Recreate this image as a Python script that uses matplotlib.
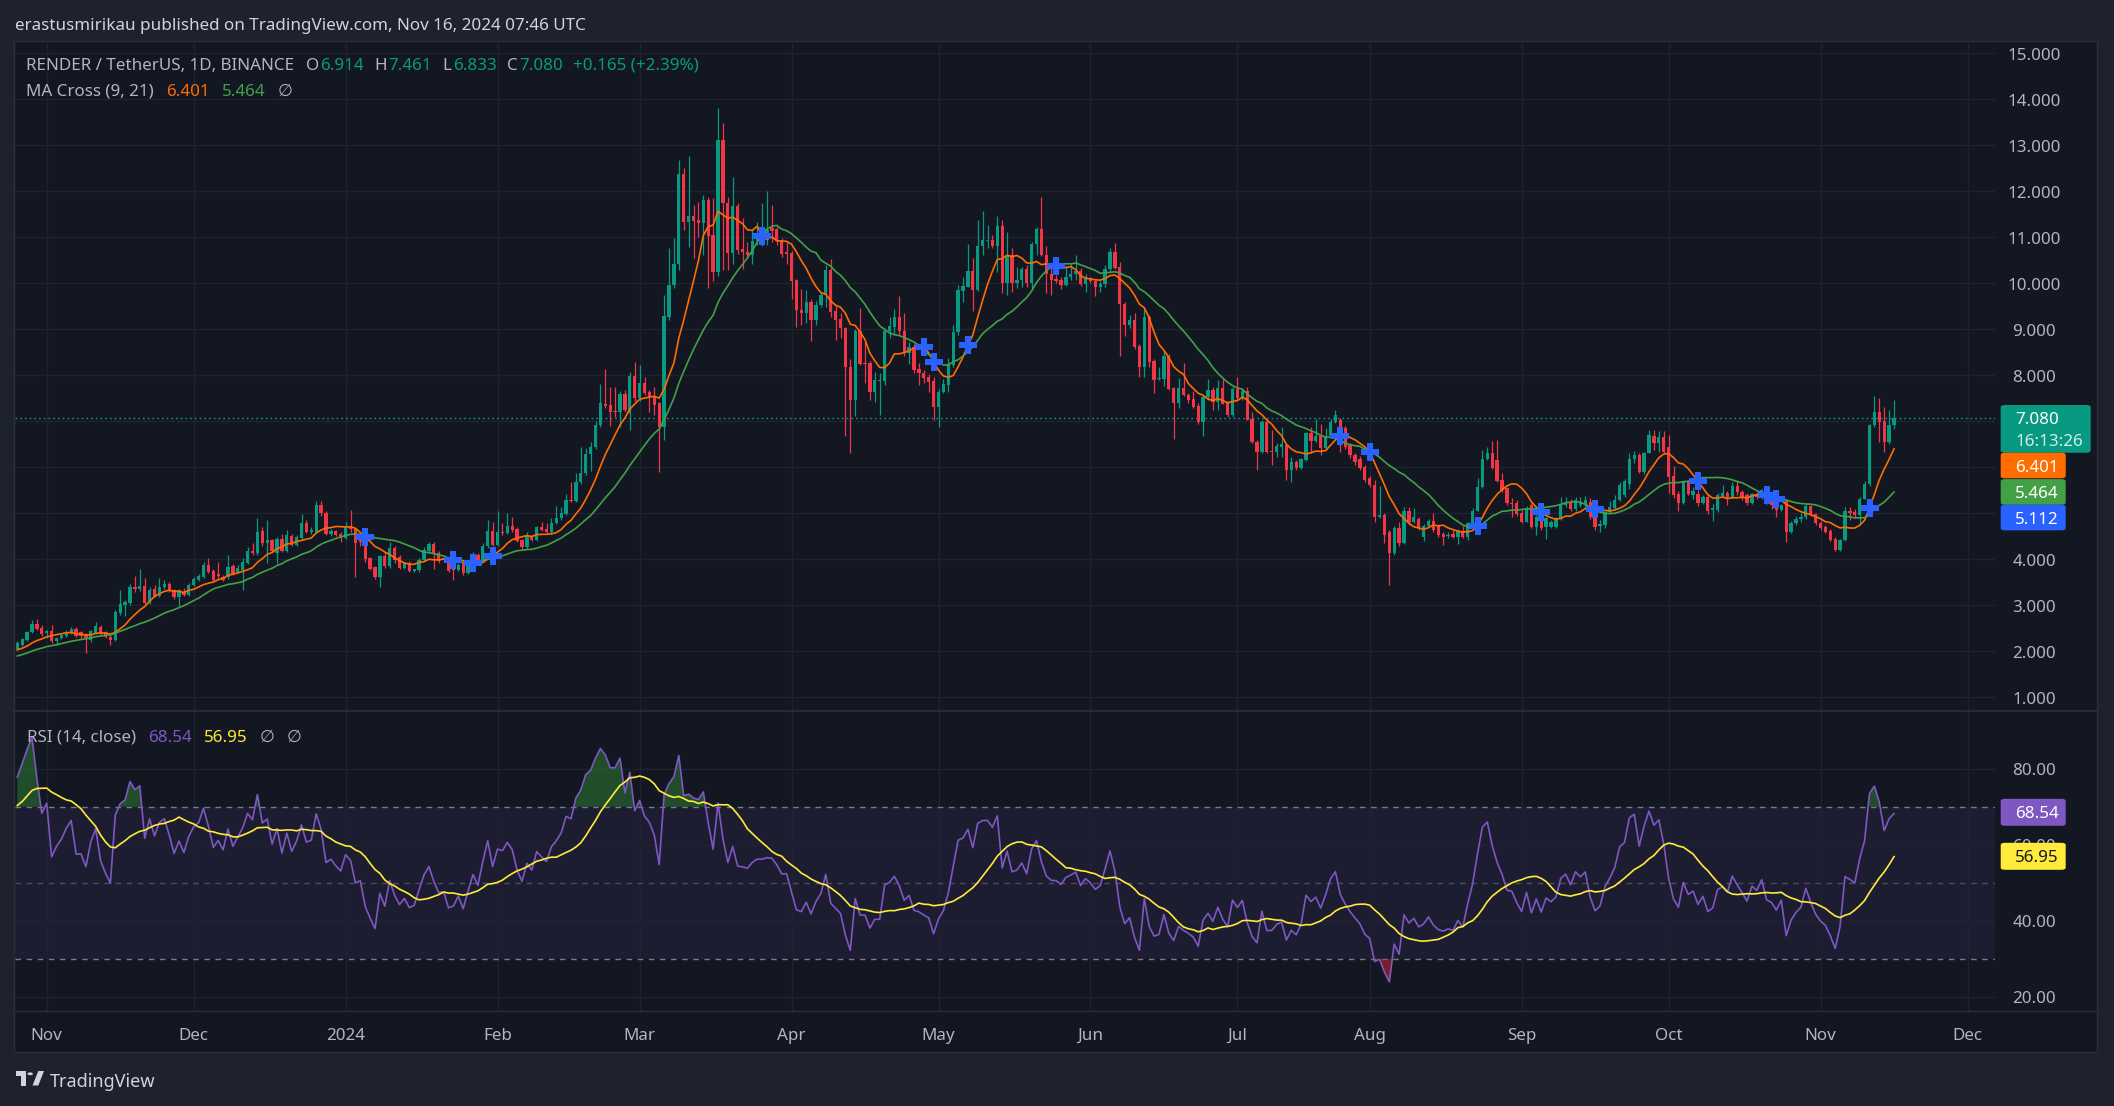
import numpy as np
import matplotlib
matplotlib.use("Agg")
import matplotlib.pyplot as plt
from matplotlib.patches import Rectangle, Polygon, FancyBboxPatch, Circle
import matplotlib.transforms as mtransforms

# ---------------- data (daily candles, RENDER/USDT, Oct 26 2023 -> Nov 16 2024) ----------------
# warm-up closes before the visible window (only used for the indicators)
pre_close = [1.60, 1.56, 1.62, 1.58, 1.54, 1.60, 1.57, 1.52, 1.58, 1.55,
             1.61, 1.57, 1.63, 1.59, 1.56, 1.62, 1.58, 1.64, 1.60, 1.63,
             1.66, 1.70, 1.68, 1.74, 1.78, 1.76, 1.82, 1.86, 1.84, 1.90,
             1.94, 1.92, 1.96, 1.99, 1.97, 2.02, 2.05, 2.03, 2.04, 2.06]

opens = [2.06, 2.14, 2.25, 2.41, 2.59, 2.50, 2.39, 2.44, 2.23, 2.28,
         2.33, 2.39, 2.48, 2.41, 2.35, 2.25, 2.39, 2.52, 2.42, 2.32,
         2.25, 2.84, 3.01, 3.06, 3.40, 3.35, 3.42, 3.06, 3.36, 3.20,
         3.39, 3.46, 3.33, 3.17, 3.30, 3.23, 3.44, 3.55, 3.62, 3.87,
         3.75, 3.69, 3.62, 3.62, 3.85, 3.73, 3.77, 3.93, 4.18, 4.13,
         4.62, 4.36, 4.42, 4.13, 4.44, 4.18, 4.51, 4.31, 4.46, 4.80,
         4.59, 4.60, 5.18, 5.01, 4.55, 4.62, 4.55, 4.47, 4.72, 4.65,
         4.49, 4.40, 4.02, 3.84, 3.62, 4.07, 3.85, 4.24, 4.06, 3.82,
         3.91, 3.75, 3.76, 3.99, 4.17, 4.33, 4.14, 4.02, 4.00, 3.88,
         3.77, 3.91, 3.71, 3.91, 4.09, 3.98, 4.28, 4.62, 4.31, 4.60,
         4.58, 4.72, 4.66, 4.42, 4.26, 4.49, 4.43, 4.70, 4.66, 4.59,
         4.80, 4.89, 4.99, 5.29, 5.27, 5.67, 5.87, 6.30, 6.45, 6.92,
         7.38, 7.35, 7.23, 7.21, 7.59, 7.17, 7.99, 7.50, 7.84, 7.64,
         7.53, 7.39, 6.88, 9.27, 9.96, 10.43, 12.38, 11.34, 11.46, 11.37,
         11.32, 11.81, 11.05, 10.25, 13.11, 11.74, 10.65, 11.68, 10.74, 10.69,
         10.61, 10.92, 11.02, 11.02, 11.21, 11.17, 10.94, 10.67, 10.65, 10.07,
         9.43, 9.35, 9.60, 9.20, 9.53, 9.74, 10.29, 9.40, 9.22, 9.02,
         8.17, 7.46, 8.97, 8.26, 8.26, 7.64, 7.88, 7.88, 8.97, 9.06,
         9.27, 8.97, 8.48, 8.62, 8.14, 8.06, 7.97, 7.88, 7.32, 7.64,
         7.79, 8.22, 8.95, 9.84, 9.93, 10.27, 9.85, 10.81, 10.93, 10.94,
         10.80, 11.25, 10.01, 10.61, 10.01, 10.07, 10.30, 10.01, 10.85, 11.17,
         10.61, 10.20, 10.09, 10.07, 9.96, 10.14, 10.20, 10.27, 9.98, 10.11,
         10.04, 9.91, 9.98, 10.30, 10.69, 10.35, 9.55, 9.09, 9.20, 8.64,
         8.17, 9.27, 8.30, 7.92, 7.92, 8.41, 7.72, 7.39, 7.72, 7.57,
         7.48, 7.33, 6.99, 7.52, 7.67, 7.43, 7.72, 7.39, 7.14, 7.70,
         7.50, 7.65, 7.04, 6.56, 6.34, 6.99, 6.36, 6.34, 6.44, 6.48,
         5.94, 6.12, 5.98, 6.16, 6.74, 6.58, 6.67, 6.41, 6.67, 6.99,
         7.03, 6.85, 6.48, 6.27, 6.17, 6.01, 5.76, 5.61, 4.93, 4.96,
         4.60, 4.13, 4.69, 4.35, 5.06, 4.82, 4.87, 4.49, 4.72, 4.84,
         4.72, 4.56, 4.50, 4.55, 4.49, 4.61, 4.49, 4.78, 5.06, 5.58,
         6.19, 6.32, 6.16, 5.72, 5.54, 5.23, 5.23, 5.00, 4.82, 5.18,
         4.71, 4.93, 4.71, 4.71, 4.71, 4.89, 5.18, 5.25, 5.09, 5.18,
         5.18, 5.25, 5.00, 4.73, 4.75, 5.02, 5.12, 5.29, 5.40, 5.64,
         6.19, 6.27, 5.90, 6.32, 6.68, 6.52, 6.65, 6.45, 5.81, 5.43,
         5.23, 5.67, 5.40, 5.43, 5.23, 5.36, 5.08, 5.07, 5.38, 5.44,
         5.36, 5.60, 5.47, 5.40, 5.22, 5.42, 5.36, 5.52, 5.40, 5.25,
         5.07, 5.27, 4.60, 4.78, 4.87, 4.92, 5.16, 4.98, 4.80, 4.71,
         4.62, 4.45, 4.20, 4.42, 5.05, 5.03, 4.96, 5.32, 5.64, 6.92,
         7.21, 7.00, 6.56, 6.914]

highs = [2.23, 2.30, 2.45, 2.68, 2.70, 2.57, 2.47, 2.57, 2.32, 2.38,
         2.46, 2.52, 2.53, 2.45, 2.39, 2.46, 2.64, 2.58, 2.45, 2.35,
         2.90, 3.34, 3.12, 3.47, 3.63, 3.78, 3.59, 3.40, 3.44, 3.59,
         3.55, 3.50, 3.36, 3.35, 3.38, 3.48, 3.61, 3.67, 3.95, 4.02,
         3.80, 3.95, 3.65, 4.09, 3.90, 3.87, 4.03, 4.26, 4.35, 4.89,
         4.70, 4.85, 4.45, 4.48, 4.56, 4.64, 4.56, 4.52, 4.98, 4.85,
         4.70, 5.27, 5.27, 5.05, 4.65, 4.64, 4.60, 4.82, 5.07, 4.68,
         4.55, 4.43, 4.05, 3.86, 4.10, 4.15, 4.38, 4.28, 4.10, 3.95,
         3.96, 3.80, 4.02, 4.26, 4.38, 4.38, 4.17, 4.05, 4.03, 3.90,
         3.92, 3.95, 3.95, 4.16, 4.13, 4.35, 4.86, 4.82, 5.04, 4.78,
         5.01, 4.93, 4.70, 4.45, 4.60, 4.53, 4.73, 4.82, 4.78, 4.89,
         5.16, 5.14, 5.43, 5.69, 5.87, 6.45, 6.43, 6.55, 7.00, 7.82,
         8.13, 7.75, 7.74, 7.65, 7.68, 8.08, 8.28, 8.22, 7.97, 7.68,
         7.74, 7.42, 9.74, 10.76, 10.98, 12.69, 12.50, 12.77, 11.70, 11.77,
         11.92, 11.88, 11.85, 13.80, 13.48, 11.87, 12.30, 11.74, 11.41, 10.90,
         11.16, 11.34, 11.74, 12.01, 11.70, 11.23, 10.98, 10.90, 10.70, 10.10,
         9.87, 9.85, 9.65, 9.62, 9.82, 10.40, 10.52, 9.51, 9.36, 9.04,
         8.35, 9.00, 9.46, 8.73, 8.30, 8.08, 8.04, 9.02, 9.27, 9.45,
         9.72, 9.36, 8.73, 8.68, 8.26, 8.11, 8.03, 7.97, 7.70, 7.93,
         8.37, 9.09, 9.96, 10.13, 10.85, 10.54, 11.38, 11.57, 11.27, 11.05,
         11.46, 11.38, 11.12, 10.76, 10.35, 10.35, 10.40, 10.90, 11.23, 11.88,
         10.80, 10.43, 10.18, 10.14, 10.38, 10.43, 10.61, 10.33, 10.20, 10.14,
         10.07, 10.04, 10.40, 10.76, 10.88, 10.47, 9.60, 9.31, 9.35, 8.68,
         9.46, 9.31, 8.35, 8.19, 8.52, 8.47, 7.75, 7.94, 8.26, 7.61,
         7.65, 7.40, 7.58, 7.91, 7.75, 7.90, 7.91, 7.42, 7.75, 7.96,
         7.72, 7.75, 7.21, 6.60, 7.03, 7.01, 6.81, 6.52, 6.88, 6.50,
         6.23, 6.15, 6.20, 6.76, 6.88, 7.04, 6.95, 6.85, 7.04, 7.25,
         7.07, 6.90, 6.52, 6.30, 6.25, 6.05, 5.80, 5.72, 5.60, 5.00,
         4.63, 4.72, 4.82, 5.14, 5.14, 5.11, 4.92, 4.76, 4.88, 5.00,
         4.76, 4.60, 4.60, 4.64, 4.65, 4.72, 4.80, 5.11, 5.76, 6.38,
         6.45, 6.58, 6.60, 5.88, 5.58, 5.33, 5.29, 5.07, 5.16, 5.22,
         4.96, 4.97, 4.92, 4.86, 4.93, 5.36, 5.35, 5.32, 5.35, 5.35,
         5.38, 5.33, 5.04, 4.85, 5.05, 5.26, 5.40, 5.68, 5.74, 6.30,
         6.36, 6.30, 6.34, 6.82, 6.80, 6.78, 6.78, 6.70, 6.02, 5.48,
         5.70, 5.72, 5.58, 5.51, 5.40, 5.40, 5.20, 5.45, 5.62, 5.48,
         5.68, 5.73, 5.50, 5.44, 5.45, 5.46, 5.53, 5.55, 5.45, 5.30,
         5.20, 5.28, 4.83, 4.95, 5.00, 5.20, 5.19, 5.00, 4.83, 4.74,
         4.65, 4.48, 4.45, 5.14, 5.14, 5.10, 5.36, 5.70, 6.95, 7.55,
         7.50, 7.32, 7.25, 7.461]

lows = [2.03, 2.12, 2.23, 2.39, 2.46, 2.33, 2.28, 2.17, 2.14, 2.26,
        2.31, 2.37, 2.31, 2.30, 1.96, 2.21, 2.37, 2.35, 2.28, 2.14,
        2.23, 2.80, 2.77, 3.00, 3.30, 3.32, 3.02, 3.03, 3.17, 3.18,
        3.35, 3.30, 3.13, 2.98, 3.20, 3.20, 3.41, 3.52, 3.60, 3.70,
        3.52, 3.60, 3.53, 3.58, 3.65, 3.70, 3.33, 3.90, 4.10, 4.10,
        4.30, 3.93, 4.15, 3.93, 4.15, 4.15, 4.28, 4.28, 4.43, 4.57,
        4.55, 4.57, 4.95, 4.52, 4.50, 4.50, 4.38, 4.45, 4.60, 3.62,
        4.30, 3.95, 3.76, 3.57, 3.39, 3.81, 3.82, 3.93, 3.78, 3.80,
        3.72, 3.73, 3.73, 3.96, 4.14, 3.80, 3.93, 3.95, 3.72, 3.55,
        3.74, 3.66, 3.68, 3.88, 3.95, 3.95, 4.25, 4.28, 4.28, 4.52,
        4.55, 4.60, 4.37, 4.20, 4.23, 4.40, 4.40, 4.61, 4.56, 4.56,
        4.77, 4.86, 4.96, 5.24, 5.24, 5.64, 5.84, 5.92, 6.40, 6.88,
        7.28, 6.90, 7.10, 6.88, 7.20, 6.81, 7.45, 7.45, 7.58, 7.21,
        7.14, 5.90, 6.59, 9.20, 9.89, 10.29, 11.16, 10.78, 10.54, 11.00,
        10.61, 9.89, 10.04, 10.16, 10.29, 10.29, 10.43, 10.64, 10.32, 10.54,
        10.43, 10.83, 10.81, 10.83, 10.90, 10.83, 10.58, 10.43, 9.65, 9.06,
        9.09, 9.13, 8.75, 9.09, 9.49, 9.49, 9.27, 8.77, 8.80, 6.67,
        6.30, 7.11, 8.22, 7.83, 7.46, 7.43, 7.14, 7.79, 8.80, 8.88,
        8.88, 8.41, 8.24, 8.06, 7.79, 7.84, 7.64, 7.03, 6.87, 7.62,
        7.64, 8.19, 8.88, 9.60, 9.91, 9.40, 9.84, 10.61, 10.76, 10.76,
        10.25, 9.78, 9.75, 9.80, 9.89, 9.93, 9.93, 9.85, 10.61, 10.59,
        9.78, 9.75, 10.01, 9.87, 9.94, 10.07, 10.07, 9.94, 9.82, 10.00,
        9.72, 9.82, 9.93, 10.25, 10.30, 8.41, 8.85, 9.02, 8.58, 7.97,
        7.97, 8.19, 7.61, 7.90, 7.77, 7.67, 6.61, 7.28, 7.54, 7.39,
        7.28, 6.95, 6.68, 7.46, 7.25, 7.25, 7.37, 7.10, 7.09, 7.46,
        7.46, 7.02, 6.52, 5.94, 6.30, 6.32, 6.05, 6.23, 6.23, 5.72,
        5.69, 5.94, 5.96, 6.14, 6.30, 6.55, 6.26, 6.38, 6.64, 6.96,
        6.34, 6.40, 6.20, 6.05, 5.94, 5.68, 5.58, 4.82, 4.90, 4.35,
        3.44, 4.10, 4.30, 4.33, 4.75, 4.78, 4.63, 4.40, 4.70, 4.60,
        4.49, 4.31, 4.46, 4.46, 4.33, 4.46, 4.42, 4.76, 5.04, 5.55,
        6.16, 5.96, 5.68, 5.47, 5.18, 4.91, 4.95, 4.78, 4.80, 4.68,
        4.53, 4.64, 4.45, 4.68, 4.67, 4.86, 5.14, 5.05, 5.05, 5.14,
        5.14, 4.88, 4.63, 4.60, 4.68, 4.99, 5.10, 5.27, 5.36, 5.53,
        6.10, 5.87, 5.85, 6.30, 6.38, 6.34, 6.32, 5.45, 5.34, 5.05,
        5.20, 5.40, 5.30, 5.15, 5.20, 4.99, 4.84, 5.03, 5.36, 5.18,
        5.33, 5.40, 5.28, 5.18, 5.20, 5.30, 5.32, 5.20, 5.10, 4.92,
        5.04, 4.37, 4.57, 4.75, 4.82, 4.88, 4.94, 4.75, 4.64, 4.57,
        4.40, 4.17, 4.17, 4.40, 4.85, 4.90, 4.75, 5.30, 5.60, 6.88,
        6.55, 6.33, 6.50, 6.833]

closes = [2.17, 2.27, 2.41, 2.59, 2.48, 2.37, 2.45, 2.23, 2.30, 2.35,
          2.43, 2.49, 2.34, 2.34, 2.28, 2.44, 2.54, 2.38, 2.31, 2.25,
          2.86, 3.02, 3.08, 3.40, 3.35, 3.42, 3.06, 3.34, 3.20, 3.40,
          3.46, 3.33, 3.17, 3.33, 3.23, 3.44, 3.58, 3.64, 3.87, 3.73,
          3.55, 3.64, 3.56, 3.84, 3.69, 3.82, 3.95, 4.18, 4.13, 4.60,
          4.35, 4.42, 4.18, 4.44, 4.18, 4.52, 4.31, 4.49, 4.80, 4.60,
          4.64, 5.18, 5.00, 4.56, 4.62, 4.53, 4.46, 4.72, 4.65, 4.35,
          4.38, 4.00, 3.80, 3.61, 4.07, 3.85, 4.24, 3.99, 3.82, 3.91,
          3.75, 3.78, 3.99, 4.20, 4.33, 4.13, 3.97, 3.98, 3.75, 3.77,
          3.88, 3.71, 3.91, 4.11, 3.98, 4.29, 4.62, 4.31, 4.60, 4.58,
          4.72, 4.64, 4.40, 4.26, 4.51, 4.43, 4.70, 4.64, 4.59, 4.80,
          4.89, 5.01, 5.29, 5.27, 5.68, 5.87, 6.30, 6.45, 6.92, 7.39,
          7.33, 7.21, 7.21, 7.59, 7.25, 7.99, 7.50, 7.84, 7.62, 7.53,
          7.35, 6.88, 9.29, 9.96, 10.43, 12.38, 11.34, 11.46, 11.36, 11.32,
          11.81, 11.03, 10.25, 13.11, 11.74, 10.65, 11.68, 10.72, 10.67, 10.61,
          10.92, 11.09, 11.09, 11.16, 11.14, 10.93, 10.64, 10.64, 10.06, 9.42,
          9.35, 9.60, 9.20, 9.53, 9.74, 10.29, 9.38, 9.20, 9.02, 8.17,
          7.46, 8.97, 8.24, 8.24, 7.64, 7.90, 7.90, 8.97, 9.07, 9.27,
          8.97, 8.48, 8.62, 8.11, 8.06, 7.95, 7.86, 7.32, 7.64, 7.82,
          8.24, 8.95, 9.85, 9.94, 10.27, 9.85, 10.81, 10.94, 10.94, 10.80,
          11.25, 10.01, 10.61, 10.01, 10.07, 10.30, 10.01, 10.85, 11.17, 10.61,
          10.20, 10.07, 10.06, 9.96, 10.14, 10.20, 10.27, 9.98, 10.13, 10.04,
          9.91, 9.98, 10.30, 10.69, 10.33, 9.55, 9.09, 9.20, 8.62, 8.17,
          9.27, 8.30, 7.90, 7.94, 8.41, 7.70, 7.39, 7.72, 7.57, 7.46,
          7.32, 6.99, 7.52, 7.67, 7.43, 7.72, 7.38, 7.14, 7.70, 7.50,
          7.65, 7.03, 6.56, 6.34, 6.99, 6.34, 6.34, 6.46, 6.51, 5.94,
          6.12, 5.98, 6.17, 6.74, 6.58, 6.67, 6.41, 6.66, 6.99, 7.14,
          6.67, 6.45, 6.27, 6.12, 5.98, 5.72, 5.61, 4.93, 4.96, 4.53,
          4.13, 4.69, 4.35, 5.06, 4.82, 4.91, 4.67, 4.72, 4.84, 4.64,
          4.53, 4.49, 4.52, 4.49, 4.61, 4.49, 4.78, 5.06, 5.58, 6.19,
          6.32, 5.98, 5.71, 5.51, 5.22, 5.20, 4.99, 4.82, 5.11, 4.71,
          4.93, 4.67, 4.89, 4.82, 4.89, 5.18, 5.25, 5.09, 5.29, 5.22,
          5.29, 4.93, 4.71, 4.77, 5.02, 5.14, 5.29, 5.62, 5.70, 6.19,
          6.27, 5.90, 6.32, 6.70, 6.52, 6.65, 6.34, 5.80, 5.40, 5.23,
          5.67, 5.43, 5.49, 5.23, 5.36, 5.06, 5.11, 5.40, 5.44, 5.36,
          5.60, 5.47, 5.35, 5.22, 5.42, 5.36, 5.50, 5.22, 5.18, 5.07,
          5.18, 4.60, 4.78, 4.87, 4.93, 5.16, 4.96, 4.78, 4.67, 4.60,
          4.43, 4.20, 4.42, 5.05, 5.01, 4.96, 5.32, 5.64, 6.92, 7.21,
          6.99, 6.56, 6.92, 7.080]

# time axis: bar index of each month start (July has a few missing days)
month_labels = ["Nov", "Dec", "2024", "Feb", "Mar", "Apr", "May", "Jun",
                "Jul", "Aug", "Sep", "Oct", "Nov", "Dec"]
month_bars = [6, 36, 67, 98, 127, 158, 188, 219, 249, 276, 307, 337, 368, 398]
price_ticks = [1, 2, 3, 4, 5, 6, 7, 8, 9, 10, 11, 12, 13, 14, 15]
rsi_ticks = [20, 40, 60, 80]

# legend / scale label values as printed on the chart
last_o, last_h, last_l, last_c = "6.914", "7.461", "6.833", "7.080"
change_txt = "+0.165 (+2.39%)"
ma9_txt, ma21_txt, cross_txt = "6.401", "5.464", "5.112"
rsi_txt, rsima_txt = "68.54", "56.95"
countdown_txt = "16:13:26"

# ---------------- indicators ----------------
O = np.array(opens, float); C = np.array(closes, float)
Hh = np.maximum(np.array(highs, float), np.maximum(O, C))
Ll = np.minimum(np.array(lows, float), np.minimum(O, C))
n = len(C)
npre = len(pre_close)
allc = np.array(pre_close + closes, float)


def sma(a, k):
    out = np.full(len(a), np.nan)
    for j in range(k - 1, len(a)):
        w = a[j - k + 1:j + 1]
        if not np.any(np.isnan(w)):
            out[j] = w.mean()
    return out


ma9_full = sma(allc, 9)
ma21_full = sma(allc, 21)
d = np.diff(allc)
g = np.where(d > 0, d, 0.0)
lo = np.where(d < 0, -d, 0.0)
L14 = 14
ag = np.zeros_like(d); al = np.zeros_like(d)
ag[L14 - 1] = g[:L14].mean(); al[L14 - 1] = lo[:L14].mean()
for k in range(L14, len(d)):
    ag[k] = (ag[k - 1] * (L14 - 1) + g[k]) / L14
    al[k] = (al[k - 1] * (L14 - 1) + lo[k]) / L14
rsi_full = np.full(len(allc), np.nan)
rs = ag[L14 - 1:] / np.maximum(al[L14 - 1:], 1e-12)
rsi_full[L14:] = 100 - 100 / (1 + rs)
rsima_full = sma(rsi_full, 14)

ma9 = ma9_full[npre:]; ma21 = ma21_full[npre:]
rsi = rsi_full[npre:]; rsima = rsima_full[npre:]
diff = ma9_full - ma21_full
cross_x, cross_y = [], []
for j in range(npre, len(allc)):
    if np.isnan(diff[j - 1]) or np.isnan(diff[j]):
        continue
    if np.sign(diff[j]) != np.sign(diff[j - 1]):
        cross_x.append(j - npre); cross_y.append(ma9_full[j])

# ---------------- style ----------------
W, H = 2114, 1106
FONT = ['Noto Sans', 'DejaVu Sans']
plt.rcParams['font.family'] = FONT
FRAME = '#1e222d'
BG = '#131722'
GRID = '#1f2330'
TXT = '#b2b5be'
UP = '#089981'; DOWN = '#f23645'
C_MA9 = '#ff6d00'; C_MA21 = '#43a047'; C_CROSS = '#2962ff'
C_RSI = '#7e57c2'; C_RSIMA = '#ffeb3b'
DY = 2.5   # text baseline nudge (pixels, downwards)

fig = plt.figure(figsize=(W / 100, H / 100), dpi=100)
fig.patch.set_facecolor(FRAME)


def fx(px):
    return px / W


def fy(py):
    return 1 - py / H


fig.add_artist(Rectangle((fx(14), fy(1052)), (2097 - 14) / W, (1052 - 40.5) / H,
                         transform=fig.transFigure, facecolor=BG, edgecolor='#2a2e39',
                         lw=1.0, zorder=0))

PX0, PXD = 17.3, 4.9
LEFT, RIGHT = 14.5, 1995


def bar_at(px):
    return (px - PX0) / PXD


ax = fig.add_axes([fx(LEFT), fy(710), (RIGHT - LEFT) / W, (710 - 41) / H])
axr = fig.add_axes([fx(LEFT), fy(1011), (RIGHT - LEFT) / W, (1011 - 711) / H])
for a in (ax, axr):
    a.set_facecolor('none')
    a.set_xlim(bar_at(LEFT), bar_at(RIGHT))
    for s in a.spines.values():
        s.set_visible(False)
    a.set_xticks([]); a.set_yticks([])
# price scale: 46 px per 1.0, 0 at y=743.3 ; RSI scale: 3.796 px per point, 80 at y=768.8
ax.set_ylim((743.3 - 710) / 46, (743.3 - 41) / 46)
axr.set_ylim(80 - (1011 - 768.8) / 3.796, 80 + (768.8 - 711) / 3.796)

# pane separators
fig.add_artist(plt.Line2D([fx(14), fx(2097)], [fy(710.5), fy(710.5)], color='#2a2e39', lw=1.3))
fig.add_artist(plt.Line2D([fx(14), fx(2097)], [fy(1011), fy(1011)], color='#2a2e39', lw=1.0))

# grid
for m in month_bars:
    ax.axvline(m, color=GRID, lw=1.0, zorder=1)
    axr.axvline(m, color=GRID, lw=1.0, zorder=1)
for p in price_ticks:
    ax.axhline(p, color=GRID, lw=1.0, zorder=1)
for r in rsi_ticks:
    axr.axhline(r, color=GRID, lw=1.0, zorder=1)

# candles
x = np.arange(n)
col = np.where(C >= O, UP, DOWN)
ax.vlines(x, Ll, Hh, colors=col, lw=0.9, zorder=3)
ax.bar(x, np.maximum(np.abs(C - O), 0.02), bottom=np.minimum(O, C), width=0.68,
       color=col, linewidth=0, zorder=4)
ax.plot(x, ma9, color=C_MA9, lw=1.2, zorder=5)
ax.plot(x, ma21, color=C_MA21, lw=1.2, zorder=5)
ax.plot(cross_x, cross_y, 'P', ms=13, color=C_CROSS, mec=C_CROSS, mew=0, zorder=6)
ax.axhline(C[-1], color=UP, lw=1.0, ls=(0, (1.2, 2.2)), zorder=2)

# RSI pane
axr.axhspan(30, 70, color=C_RSI, alpha=0.10, lw=0, zorder=0)
axr.axhline(70, color='#787b86', lw=1.0, ls=(0, (4, 4)), zorder=2)
axr.axhline(50, color='#787b86', lw=1.0, alpha=0.5, ls=(0, (4, 4)), zorder=2)
axr.axhline(30, color='#787b86', lw=1.0, ls=(0, (4, 4)), zorder=2)
axr.fill_between(x, rsi, 70, where=rsi > 70, interpolate=True, color='#2e7d32',
                 alpha=0.55, lw=0, zorder=3)
axr.fill_between(x, rsi, 30, where=rsi < 30, interpolate=True, color='#c62828',
                 alpha=0.55, lw=0, zorder=3)
axr.plot(x, rsi, color=C_RSI, lw=1.2, zorder=4)
axr.plot(x, rsima, color=C_RSIMA, lw=1.2, zorder=5)

# ---------------- text ----------------
renderer = fig.canvas.get_renderer()


def fit_size(s, width, base=12, **kw):
    t = fig.text(0, 0, s, fontsize=base, **kw)
    w = t.get_window_extent(renderer=renderer).width
    t.remove()
    return base * width / w


FS = fit_size("RENDER / TetherUS, 1D, BINANCE", 268.5)
FS0 = fit_size("erastusmirikau published on TradingView.com, Nov 16, 2024 07:46 UTC", 570)


def segments(x0, y, segs, size):
    xx = x0
    for s, c, gap in segs:
        t = fig.text(fx(xx), fy(y + DY), s, color=c, fontsize=size, ha='left', va='center')
        w = t.get_window_extent(renderer=renderer).width
        xx += w + gap


fig.text(fx(15.3), fy(23.3 + DY), "erastusmirikau published on TradingView.com, Nov 16, 2024 07:46 UTC",
         color='#d1d4dc', fontsize=FS0, ha='left', va='center')
segments(26.5, 63.3, [("RENDER / TetherUS, 1D, BINANCE", TXT, 11), ("O", TXT, 1),
                      (last_o, UP, 11), ("H", TXT, 1), (last_h, UP, 11), ("L", TXT, 1),
                      (last_l, UP, 11), ("C", TXT, 1), (last_c, UP, 10),
                      (change_txt, UP, 0)], FS)
segments(26.5, 89.5, [("MA Cross (9, 21)", TXT, 12), (ma9_txt, C_MA9, 12),
                      (ma21_txt, C_MA21, 12), ("\u2205", TXT, 0)], FS)
segments(27.3, 735, [("RSI (14, close)", TXT, 12), (rsi_txt, C_RSI, 12),
                     (rsima_txt, C_RSIMA, 12), ("\u2205", TXT, 12), ("\u2205", TXT, 0)], FS)


def py_price(v):
    return 743.3 - v * 46


def py_rsi(v):
    return 768.8 + (80 - v) * 3.796


# price-scale boxes, stacked so they do not overlap
boxes = [(py_price(C[-1]) - 12.6, 47.7, UP, 2090.7,
          [(last_c, '#ffffff'), (countdown_txt, '#d4ede8')]),
         (py_price(float(ma9_txt)) - 12.8, 25.6, C_MA9, 2065.7, [(ma9_txt, '#ffffff')]),
         (py_price(float(ma21_txt)) - 12.8, 25.6, C_MA21, 2065.7, [(ma21_txt, '#ffffff')]),
         (py_price(float(cross_txt)) - 12.8, 25.6, C_CROSS, 2065.7, [(cross_txt, '#ffffff')])]
placed = []
prev_bottom = -1e9
for top, h, face, right, lines in boxes:
    top = max(top, prev_bottom)
    placed.append((top, h, face, right, lines))
    prev_bottom = top + h

# price scale labels (labels hidden under the value boxes are not drawn, as on the chart)
tp = mtransforms.offset_copy(mtransforms.blended_transform_factory(fig.transFigure, ax.transData),
                             fig=fig, y=-DY, units='dots')
for p in price_ticks:
    yy = py_price(p)
    if any(top - 6 < yy < top + h + 6 for top, h, *_ in placed):
        continue
    ax.text(fx(2034), p, f"{p:.3f}", transform=tp, ha='center', va='center',
            color=TXT, fontsize=FS, clip_on=False)
tr = mtransforms.offset_copy(mtransforms.blended_transform_factory(fig.transFigure, axr.transData),
                             fig=fig, y=-DY, units='dots')
for r in rsi_ticks:
    axr.text(fx(2034), r, f"{r:.2f}", transform=tr, ha='center', va='center',
             color=TXT, fontsize=FS, clip_on=False, zorder=1)

# time labels
tt = mtransforms.blended_transform_factory(axr.transData, fig.transFigure)
for m, lab in zip(month_bars, month_labels):
    axr.text(m, fy(1033.3 + DY), lab, transform=tt, ha='center', va='center', color=TXT,
             fontsize=FS, clip_on=False)


def scale_box(top, h, face, right, lines):
    fig.add_artist(FancyBboxPatch((fx(2000.7), fy(top + h)), (right - 2000.7) / W, h / H,
                                  boxstyle="round,pad=0,rounding_size=0.002",
                                  transform=fig.transFigure, facecolor=face, edgecolor='none',
                                  zorder=10))
    for k, (s, c) in enumerate(lines):
        fig.text(fx(2015), fy(top + 12.8 + k * 21.3 + DY), s, color=c, fontsize=FS, ha='left',
                 va='center', zorder=11)


for top, h, face, right, lines in placed:
    scale_box(top, h, face, right, lines)
scale_box(py_rsi(float(rsi_txt)) - 13.5, 27, C_RSI, 2065.7, [(rsi_txt, '#ffffff')])
scale_box(py_rsi(float(rsima_txt)) - 13.5, 27, C_RSIMA, 2065.7, [(rsima_txt, '#131722')])

# footer logo
LOGO = '#d1d4dc'
fig.add_artist(Polygon([(fx(15.6), fy(1071)), (fx(26.3), fy(1071)), (fx(26.3), fy(1085.5)),
                        (fx(21.0), fy(1085.5)), (fx(21.0), fy(1076.3)), (fx(15.6), fy(1076.3))],
                       closed=True, transform=fig.transFigure, facecolor=LOGO, edgecolor='none'))
fig.add_artist(Circle((fx(30.2), fy(1073.8)), 2.7 / W, transform=fig.transFigure,
                      facecolor=LOGO, edgecolor='none'))
fig.add_artist(Polygon([(fx(32.5), fy(1085.5)), (fx(38.3), fy(1071)), (fx(44.0), fy(1071)),
                        (fx(38.3), fy(1085.5))], closed=True, transform=fig.transFigure,
                       facecolor=LOGO, edgecolor='none'))
FSF = fit_size("TradingView", 105, weight='medium')
fig.text(fx(50), fy(1079.5 + DY), "TradingView", color=LOGO, fontsize=FSF, weight='medium',
         ha='left', va='center')

fig.savefig("out.png", dpi=100, facecolor=FRAME)
